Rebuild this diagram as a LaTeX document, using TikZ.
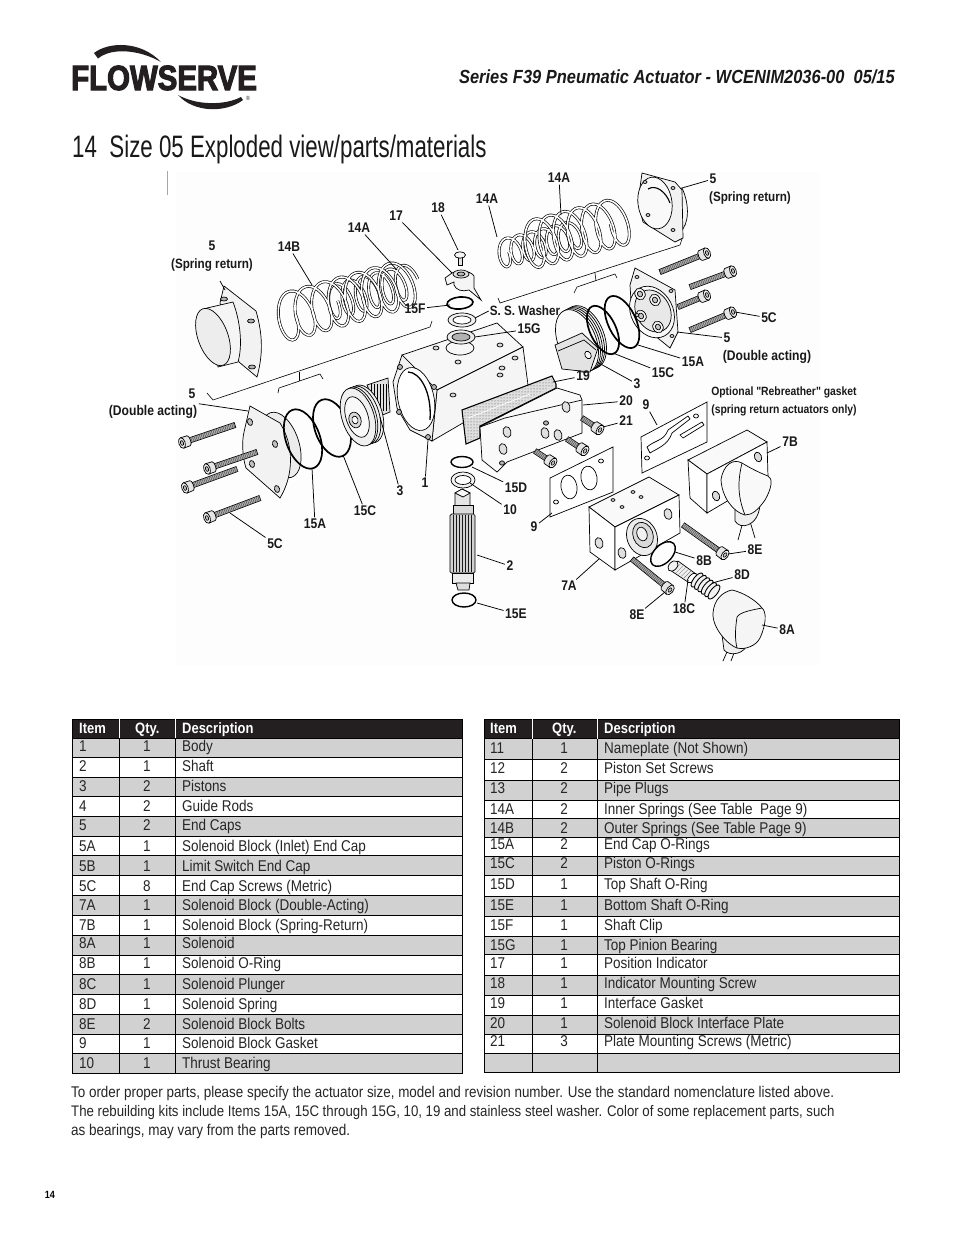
\documentclass[tikz,border=0pt]{standalone}
\usepackage{fontspec}
\setmainfont[FakeStretch=0.865]{Liberation Sans}
\newfontfamily\logofont[FakeStretch=0.84,FakeBold=3]{Liberation Sans}
\newfontfamily\titlefont[FakeStretch=0.72]{Liberation Sans}
\newfontfamily\optfont[FakeStretch=0.865]{Liberation Sans}
\usetikzlibrary{calc,patterns}
\definecolor{hdr}{HTML}{231F20}
\definecolor{rowg}{HTML}{D1D1D1}
\definecolor{bgt}{HTML}{FDFDFD}
\tikzset{
 part/.style={draw=black,line width=.7,fill=white},
 shade1/.style={draw=black,line width=.7,fill=gray!10},
 lead/.style={draw=black,line width=.75},
 lab/.style={font=\fontsize{14}{15}\selectfont\bfseries,inner sep=1.5pt,text=black!90},
 sublab/.style={font=\fontsize{13.5}{14}\selectfont\bfseries,inner sep=1pt,text=black!90},
 cell/.style={font=\fontsize{15.6}{17}\selectfont,anchor=base west,inner sep=0pt,text=black!85},
 cellc/.style={font=\fontsize{15.6}{17}\selectfont,anchor=base,inner sep=0pt,text=black!85},
 head/.style={font=\fontsize{15}{17}\selectfont\bfseries,anchor=base west,inner sep=0pt,text=white},
 foot/.style={font=\fontsize{15.6}{17}\selectfont,anchor=base west,inner sep=0pt,text=black!85},
}
% ellipse ring: cx cy a b angle width
\newcommand{\myring}[6]{\draw[line width=#6,shift={(#1,#2)},rotate=-#5] (0,0) ellipse[x radius=#3,y radius=#4];}
\newcommand{\myell}[6]{\draw[#6,shift={(#1,#2)},rotate=-#5] (0,0) ellipse[x radius=#3,y radius=#4];}
% bolt: head x,y tip x,y
\newcommand{\mybolt}[4]{%
 \pgfmathsetmacro\bang{atan2(#4-#2,#3-#1)}%
 \pgfmathsetmacro\blen{veclen(#4-#2,#3-#1)}%
 \begin{scope}[shift={(#1,#2)},rotate=-\bang]
  \draw[part,fill=gray!45] (6,-2.6) rectangle (\blen,2.6);
  \draw[gray!80!black,line width=4.6,dash pattern=on .9pt off .9pt] (6,0)--(\blen,0);
  \draw[part,fill=gray!20] (7,0) ellipse[x radius=2,y radius=5.2];
  \fill[gray!20] (0,-5.5) rectangle (7,5.2);
  \draw[line width=.7] (0,-5.5) -- (7,-5.2) (0,5.5) -- (7,5.2);
  \draw[part,fill=gray!12] (0,0) ellipse[x radius=3.2,y radius=5.5];
  \draw[line width=.6,fill=gray!50] (0,0) ellipse[x radius=1.5,y radius=2.5];
 \end{scope}}
% spring: x1 y1 x2 y2 R r coils
\newcommand{\myspring}[7]{%
 \pgfmathsetmacro\bang{atan2(#4-#2,#3-#1)}%
 \pgfmathsetmacro\blen{veclen(#4-#2,#3-#1)}%
 \begin{scope}[shift={(#1,#2)},rotate=-\bang]
  \draw[black,line width=2.9,line join=round] plot[domain=0:360*#7,samples=170,smooth,variable=\t] ({\blen*(\t/(360*#7))+#6*cos(\t)},{#5*sin(\t)});
  \draw[white,line width=1.6,line join=round] plot[domain=0:360*#7,samples=170,smooth,variable=\t] ({\blen*(\t/(360*#7))+#6*cos(\t)},{#5*sin(\t)});
 \end{scope}}
% label + leader
\newcommand{\lbl}[6]{\node[lab] (#1) at (#2,#3) {#4}; \coordinate (#1e) at (#5,#6); \draw[lead] (#1) -- (#1e);}
\begin{document}
\begin{tikzpicture}[x=1pt,y=-1pt]
\useasboundingbox (0,0) rectangle (954,1235);
\fill[white] (0,0) rectangle (954,1235);
\fill[bgt] (176,172) rectangle (820,665);
\draw[gray!70,line width=.8] (167.5,171) -- (167.5,195);

%%% logo
\node[inner sep=0,anchor=base west,text depth=0pt,font=\fontsize{35}{35}\selectfont\logofont\bfseries,text=hdr] (logo) at (71,90) {FLOWSERVE};
\fill[hdr] (94,53) .. controls (108,42) and (140,40) .. (161,62) .. controls (140,50) and (112,47) .. (98,58.5) -- cycle;
\fill[hdr] (178,95) .. controls (194,113) and (226,113) .. (243,100) -- (241,97) .. controls (226,105) and (198,106) .. (178,95) -- cycle;
\node[inner sep=0,font=\fontsize{6}{6}\selectfont,text=hdr] (reg) at (248,98) {®};

%%% header and title
\node[inner sep=0,anchor=base east,font=\fontsize{19}{20}\selectfont\bfseries\itshape,text=black!90] (hd) at (895,83) {Series F39 Pneumatic Actuator - WCENIM2036-00\ \ 05/15};
\node[inner sep=0,anchor=base west,font=\fontsize{31}{32}\selectfont\titlefont,text=black!90] (ttl) at (72,157) {14\ \ Size 05 Exploded view/parts/materials};

%%% brackets
\draw[lead,line width=.6] (207,393)--(213,400)--(430,327)--(432,321);
\draw[lead,line width=.6] (299,372)--(299,381);
\draw[lead,line width=.6] (278,393)--(279,388)--(320,374)--(323,379);
\draw[lead,line width=.6] (498,298)--(500,303)--(680,245)--(682,239);
\draw[lead,line width=.6] (595,273)--(596,281);
\draw[lead,line width=.6] (574,293)--(577,287)--(615,274)--(617,278);

%%% springs
\myspring{330}{303}{410}{281}{17}{8}{6}
\myspring{283}{318}{408}{283}{24}{13}{7.5}
\myspring{501}{254}{578}{234}{14}{8}{6.5}
\myspring{530}{245}{622}{221}{24}{12}{6.5}

%%% left dome cap
\draw[shade1] (224,286) -- (256,311) .. controls (263,335) and (263,355) .. (257,377) -- (239,362) -- (220,303) -- cycle;
\draw[part,fill=gray!8] (207,308) -- (233,302) .. controls (240,320) and (243,345) .. (238,362) -- (218,367) -- cycle;
\myell{213}{337}{30}{15}{70}{part,fill=gray!14}
\foreach \p/\q in {224/299,251/321,252/367} {\myell{\p}{\q}{3.5}{2}{0}{part,fill=gray!60}}

%%% right dome cap
\draw[part,fill=gray!8] (682,188) .. controls (690,205) and (689,225) .. (680,232) -- (670,220) -- (672,190) -- cycle;
\draw[shade1] (642,173) -- (675,182) -- (682,190) -- (683,238) -- (675,242) -- (643,222) -- (638,202) -- cycle;
\myell{655}{203}{26}{17}{82}{part,fill=gray!5}
\draw[line width=1.1] (648,189) .. controls (656,184) and (666,192) .. (670,203);
\foreach \p/\q in {645/182,673/188,673/230,648/215} {\myell{\p}{\q}{2}{1.5}{0}{part,fill=gray!40}}

%%% left double acting cap
\myell{281}{445}{34}{18}{72}{part,fill=gray!15}
\draw[shade1] (250,406) -- (280,423) .. controls (294,445) and (294,475) .. (280,498) -- (246,468) .. controls (242,456) and (242,440) .. (244,432) -- cycle;
\foreach \p/\q in {250/422,275/444,252/464,277/489} {\myell{\p}{\q}{3.5}{2.5}{75}{part,fill=gray!50}}

%%% right double acting cap
\draw[shade1] (635,268) -- (675,290) -- (678,332) -- (670,348) -- (632,317) -- (630,285) -- cycle;
\myell{652}{312}{27}{21}{62}{part,fill=gray!5}
\myell{653}{311}{22}{17}{62}{part,fill=gray!18}
\foreach \p/\q in {640/294,655/300,641/316,658/327} {\myell{\p}{\q}{6}{5}{60}{part,fill=gray!8}\myell{\p}{\q}{3}{2.5}{60}{part,fill=gray!45}}
\foreach \p/\q in {637/277,671/291,672/336,637/315} {\myell{\p}{\q}{2}{1.5}{0}{part,fill=gray!40}}

%%% bolts
\mybolt{707}{253}{660}{272}
\mybolt{733}{271}{690}{287}
\mybolt{707}{295}{678}{307}
\mybolt{733}{312}{690}{330}
\mybolt{182}{443}{235}{425}
\mybolt{207}{469}{257}{452}
\mybolt{185}{488}{237}{469}
\mybolt{207}{518}{260}{498}

%%% right piston
\foreach \c/\d in {585/337,583/338,581/339,579/340} {\myell{\c}{\d}{33}{19}{68}{part,fill=gray!8}}
\myell{577}{341}{33}{19}{68}{part,fill=gray!5}
\draw[shade1,fill=gray!22] (555,345) -- (582,333) -- (598,348) -- (590,372) -- (562,369) -- cycle;
\draw[line width=.7] (558,351) -- (584,340) -- (596,350);
\myell{588}{355}{4}{3}{60}{part,fill=gray!5}

%%% O rings
\myring{303}{439}{31}{17}{70}{1.7}
\myring{332}{428}{30}{17}{70}{1.7}
\myring{603}{330}{26}{13}{65}{1.7}
\myring{622}{322}{28}{14}{65}{1.7}

%%% left piston
\draw[shade1,fill=gray!25] (367,385) -- (388,378) -- (390,412) -- (380,416) -- cycle;
\foreach \k in {371,374,...,386} {\draw[line width=.7] (\k,384) -- (\k,411);}
\foreach \c/\d in {366/414,363/415,360/416,358/417} {\myell{\c}{\d}{30}{16}{72}{part,fill=gray!12}}
\myell{357}{417}{21}{11}{72}{part,fill=gray!5}
\myell{355}{420}{8}{6}{72}{part,fill=gray!30}
\myell{355}{420}{4}{3}{72}{part,fill=gray!5}

%%% body
\draw[part,fill=gray!6] (402,355) -- (497,323) -- (523,347) -- (437,390) -- cycle;
\draw[part,fill=gray!8] (437,390) -- (523,347) -- (528,385) -- (432,441) -- cycle;
\draw[shade1] (402,355) -- (437,390) -- (432,441) -- (410,430) -- (397,408) -- (393,382) -- cycle;
\myell{416}{399}{32}{18}{78}{part,fill=white}
\draw[line width=1.3] (408,372) .. controls (420,372) and (432,392) .. (430,420);
\foreach \p/\q in {400/367,434/387,399/412,428/437} {\myell{\p}{\q}{2.5}{2.5}{0}{part,fill=gray!60}}
\foreach \p/\q in {436/348,500/345,458/362,515/358,453/395,500/375,502/368} {\myell{\p}{\q}{3}{2}{0}{part,fill=gray!30}}
\myell{460}{348}{14}{7}{0}{part,fill=gray!6}

%%% gasket 19
\draw[line width=1.1,fill=gray!25] (462,410) -- (552,376) -- (556,384) -- (556,388) -- (480,426) -- (480,438) -- (466,444) -- cycle;
\fill[pattern=dots,pattern color=black!70] (463,411) -- (551,377) -- (555,385) -- (480,425) -- (480,437) -- (467,443) -- cycle;
\draw[white,line width=.7] (468,418) -- (530,394);

%%% plate 20
\draw[part,fill=gray!5] (480,427) -- (557,388) -- (580,395) -- (582,400) -- (582,433) -- (507,462) -- (497,472) -- (482,460) -- cycle;
\draw[line width=.7] (480,427) -- (505,418) -- (582,400);
\foreach \p/\q in {507/432,545/433,558/435,566/407,503/449} {\myell{\p}{\q}{5.5}{4}{75}{part,fill=gray!25}}
\foreach \p/\q in {546/423,502/463} {\myell{\p}{\q}{2.5}{2.2}{0}{part,fill=gray!60}}
\mybolt{600}{430}{582}{418}
\mybolt{585}{451}{567}{439}
\mybolt{553}{463}{535}{451}

%%% gaskets 9
\draw[part] (550,478) -- (613,447) -- (613,492) -- (550,517) -- cycle;
\myell{569}{487}{12}{8}{80}{part}
\myell{589}{478}{12}{8}{80}{part}
\myell{556}{502}{2.5}{2}{0}{part}
\myell{601}{461}{2.5}{2}{0}{part}
\draw[part] (641,437) -- (707,402) -- (707,442) -- (642,473) -- cycle;
\draw[part] (647,447) .. controls (655,440) and (664,441) .. (668,430) -- (688,416) -- (690,419) -- (672,433) .. controls (668,445) and (658,448) .. (650,453) -- cycle;
\draw[part] (680,435) -- (702,422) -- (704,425) -- (683,438) -- cycle;
\myell{647}{458}{2.5}{2}{0}{part}
\myell{696}{416}{2.5}{2}{0}{part}

%%% block 7B
\draw[part,fill=gray!5] (688,460) -- (747,430) -- (767,442) -- (707,474) -- cycle;
\draw[part] (688,460) -- (707,474) -- (707,513) -- (690,498) -- cycle;
\draw[part] (707,474) -- (767,442) -- (768,477) -- (707,513) -- cycle;
\myell{758}{457}{5}{3.5}{70}{part,fill=gray!30}
\myell{716}{496}{5}{3.5}{70}{part,fill=gray!30}
\draw[part,line width=.7] (738,540) -- (744,518);
\draw[part,line width=.7] (755,538) -- (749,518);
\draw[part,fill=gray!12] (735,505) -- (735,521) .. controls (740,530) and (758,527) .. (760,505) -- cycle;
\draw[part,fill=gray!5] (721,480) .. controls (723,465) and (733,458) .. (742,463) .. controls (750,468) and (760,473) .. (768,476) .. controls (773,478) and (772,488) .. (765,500) .. controls (758,510) and (752,515) .. (745,515) .. controls (733,512) and (722,497) .. (721,480) -- cycle;
\draw[line width=.7] (742,463) .. controls (738,480) and (737,495) .. (745,515);

%%% block 7A
\draw[part,fill=gray!5] (589,507) -- (649,477) -- (679,495) -- (615,527) -- cycle;
\draw[part] (589,507) -- (615,527) -- (615,570) -- (590,552) -- cycle;
\draw[part] (615,527) -- (679,495) -- (680,533) -- (615,570) -- cycle;
\myell{642}{537}{19}{15}{70}{part,fill=gray!15}
\myell{643}{535}{13}{10}{70}{part,fill=gray!30}
\myell{642}{534}{7}{5}{70}{part,fill=gray!10}
\foreach \p/\q in {668/514,622/553,599/543} {\myell{\p}{\q}{5.5}{4}{75}{part,fill=gray!25}}
\foreach \p/\q in {613/500,633/492,641/497,622/507} {\myell{\p}{\q}{2}{1.4}{0}{part,fill=gray!35}}
\mybolt{725}{555}{683}{525}
\mybolt{670}{590}{632}{559}

%%% solenoid parts
\myring{663}{554}{15}{9}{-45}{1.4}
\draw[part,fill=gray!12] (670,570) -- (678,561) -- (696,574) -- (688,582) -- cycle;
\foreach \k in {1,...,5} {\draw[line width=.4,gray] ({671+\k*2.6},{569+\k*1.8}) -- ({678+\k*2.6},{562+\k*1.8});}
\myell{673}{566}{6}{4}{-48}{part,fill=gray!10}
\myell{692}{578}{6}{3}{-48}{part,fill=white}
\foreach \k in {0,...,5} {\myell{{697+\k*3.4}}{{580+\k*2.4}}{8.5}{3.5}{-52}{line width=.9,fill=gray!10}}
\draw[line width=.7] (730,645) -- (723,661);
\draw[line width=.7] (737,645) -- (731,661);
\draw[part,fill=gray!12] (722,635) -- (724,650) .. controls (730,657) and (745,654) .. (748,643) -- cycle;
\draw[part,fill=gray!8] (713,613) .. controls (714,600) and (722,592) .. (732,590) .. controls (742,592) and (756,600) .. (762,608) .. controls (767,612) and (766,625) .. (760,638) .. controls (756,646) and (745,650) .. (737,648) .. controls (728,645) and (712,628) .. (713,613) -- cycle;
\draw[line width=.7] (762,608) .. controls (752,610) and (740,612) .. (737,617) .. controls (735,630) and (735,640) .. (737,648);

%%% shaft
\myring{462}{462}{11}{5.5}{0}{1.4}
\myell{463}{480}{12}{8}{0}{part,fill=gray!10}
\myell{463}{480}{8}{4.5}{0}{part,fill=white}
\draw[part,fill=gray!20] (455,493) -- (462,489) -- (470,493) -- (470,508) -- (455,508) -- cycle;
\draw[part,fill=gray!5] (455,493) -- (462,489) -- (470,493) -- (463,497) -- cycle;
\draw[part,fill=gray!30] (453,505) rectangle (473,515);
\draw[part,fill=gray!35,rounded corners=1.5pt] (450,514) rectangle (475,573);
\foreach \k in {453,456,...,473} {\draw[line width=.45,gray!20!black] (\k,515) -- (\k,572);}
\draw[part,fill=gray!15] (452,573) rectangle (473,583);
\draw[part,fill=gray!25] (456,583) -- (470,583) -- (469,590) -- (458,590) -- cycle;
\myring{464}{600}{12}{7}{0}{1.4}

%%% top parts
\draw[part,fill=gray!20] (458,256) rectangle (462,265);
\myell{460}{255}{5.5}{3.2}{0}{part,fill=gray!8}
\draw[part,fill=gray!8] (445,278) -- (452,273) .. controls (458,270) and (470,270) .. (474,276) -- (474,288) -- (481,300) -- (469,290) .. controls (462,292) and (456,290) .. (454,285) -- (454,282) -- (447,285) -- cycle;
\myell{461}{274}{8}{4}{0}{part,fill=gray!25}
\myell{461}{274}{4}{2}{0}{part,fill=gray!55}
\myring{460}{303}{13}{6}{-5}{1.6}
\myell{462}{320}{14}{7}{0}{part,fill=gray!12}
\myell{462}{320}{9}{4}{0}{part,fill=white}
\myell{461}{337}{14}{7}{0}{part,fill=gray!15}
\myell{461}{337}{9}{4}{0}{part,fill=gray!60}

%%% labels
\node[lab] (a5) at (212,246) {5};
\node[sublab] (a5s) at (212,265) {(Spring return)};
\coordinate (a5e) at (225,290); \draw[lead] (220,281) -- (a5e);
\lbl{b14B}{289}{247}{14B}{312}{285}
\lbl{c14A}{359}{228}{14A}{397}{270}
\lbl{d17}{396}{216}{17}{452}{273}
\lbl{e18}{438}{208}{18}{458}{250}
\lbl{f14A}{487}{199}{14A}{497}{237}
\lbl{g14A}{559}{178}{14A}{561}{215}
\lbl{h5}{713}{179}{5}{682}{188}
\node[sublab] (h5s) at (750,198) {(Spring return)};
\lbl{i5C}{769}{318}{5C}{735}{312}
\lbl{j5}{727}{338}{5}{677}{332}
\node[lab] (j5s) at (767,357) {(Double acting)};
\lbl{k15A}{693}{362}{15A}{638}{345}
\lbl{l15C}{663}{373}{15C}{613}{353}
\lbl{m3}{637}{384}{3}{597}{362}
\lbl{n19}{583}{376}{19}{553}{382}
\lbl{o20}{626}{401}{20}{583}{405}
\lbl{p21}{626}{421}{21}{603}{427}
\lbl{q9}{646}{405}{9}{657}{425}
\node[sublab,font=\fontsize{12}{13}\selectfont\optfont\bfseries] (opt1) at (784,392) {Optional "Rebreather" gasket};
\node[sublab,font=\fontsize{12}{13}\selectfont\optfont\bfseries] (opt2) at (784,410) {(spring return actuators only)};
\lbl{r7B}{790}{442}{7B}{767}{453}
\lbl{s8E}{755}{550}{8E}{728}{554}
\lbl{t8B}{704}{561}{8B}{675}{552}
\lbl{u8D}{742}{575}{8D}{712}{583}
\lbl{v8A}{787}{630}{8A}{762}{625}
\lbl{w18C}{684}{609}{18C}{688}{580}
\lbl{x8E}{637}{615}{8E}{665}{592}
\lbl{y7A}{569}{586}{7A}{599}{559}
\lbl{z9}{534}{527}{9}{552}{513}
\lbl{aa15D}{516}{488}{15D}{472}{467}
\lbl{ab10}{510}{510}{10}{470}{483}
\lbl{ac2}{510}{566}{2}{477}{555}
\lbl{ad15E}{516}{614}{15E}{477}{603}
\lbl{ae1}{425}{483}{1}{428}{440}
\lbl{af3}{400}{491}{3}{380}{417}
\lbl{ag15C}{365}{511}{15C}{343}{455}
\lbl{ah15A}{315}{524}{15A}{312}{468}
\lbl{ai5C}{275}{544}{5C}{230}{513}
\node[lab] (aj5) at (192,394) {5};
\node[lab] (aj5s) at (153,412) {(Double acting)};
\coordinate (aj5e) at (248,411); \draw[lead] (aj5s.north east) -- (aj5e);
\lbl{ak15F}{415}{309}{15F}{450}{305}
\node[sublab] (alw) at (525,311) {S. S. Washer};
\coordinate (alwe) at (475,318); \draw[lead] (alw.west) -- (alwe);
\lbl{am15G}{529}{329}{15G}{475}{337}

%%% left table
\fill[hdr] (72,719) rectangle (462,738);
\foreach \a/\b in {738/757.3,777/796.7,816.7/836,855.7/875.5,895/915,935/955,974.3/994.3,1014.3/1034.3,1053.3/1073.3} {\fill[rowg] (72,\a) rectangle (462,\b);}
\foreach \a in {738,757.3,777,796.7,816.7,836,855.7,875.5,895,915,935,955,974.3,994.3,1014.3,1034.3,1053.3,1073.3} {\draw[black,line width=.7] (72,\a) -- (462,\a);}
\draw[black,line width=.7] (72,719) rectangle (462,1073.3);
\foreach \c in {119,175} {\draw[white,line width=.8] (\c,719) -- (\c,738); \draw[black,line width=.7] (\c,738) -- (\c,1073.3);}
\node[head] (lh1) at (79,733) {Item};
\node[head] (lh2) at (135,733) {Qty.};
\node[head] (lh3) at (182,733) {Description};
\foreach \i/\q/\d/\y in {1/1/Body/751.7,2/1/Shaft/771,3/2/Pistons/791,4/2/Guide Rods/811.7,5/2/End Caps/830.7,5A/1/Solenoid Block (Inlet) End Cap/851.7,5B/1/Limit Switch End Cap/871.7,5C/8/End Cap Screws (Metric)/891,7A/1/Solenoid Block (Double-Acting)/910.7,7B/1/Solenoid Block (Spring-Return)/930,8A/1/Solenoid/948.3,8B/1/Solenoid O-Ring/968.3,8C/1/Solenoid Plunger/989,8D/1/Solenoid Spring/1009.3,8E/2/Solenoid Block Bolts/1029.3,9/1/Solenoid Block Gasket/1048.3,10/1/Thrust Bearing/1068.3} {
 \node[cell] at (79,\y) {\i};
 \node[cellc] at (147,\y) {\q};
 \node[cell] at (182,\y) {\d};
}

%%% right table
\fill[hdr] (484,719) rectangle (899,738.5);
\foreach \a/\b in {738.5/759.5,780/800,818/837,856.7/875.7,896/916,936/954,975/995.7,1015.7/1034.3,1053.3/1072.7} {\fill[rowg] (484,\a) rectangle (899,\b);}
\foreach \a in {738.5,759.5,780,800,818,837,856.7,875.7,896,916,936,954,975,995.7,1015.7,1034.3,1053.3,1072.7} {\draw[black,line width=.7] (484,\a) -- (899,\a);}
\draw[black,line width=.7] (484,719) rectangle (899,1072.7);
\foreach \c in {532,597} {\draw[white,line width=.8] (\c,719) -- (\c,738.5); \draw[black,line width=.7] (\c,738.5) -- (\c,1072.7);}
\node[head] (rh1) at (490,733) {Item};
\node[head] (rh2) at (552,733) {Qty.};
\node[head] (rh3) at (604,733) {Description};
\foreach \i/\q/\d/\y in {11/1/Nameplate (Not Shown)/753,12/2/Piston Set Screws/773,13/2/Pipe Plugs/793,14A/2/Inner Springs (See Table\ \ Page 9)/814,14B/2/Outer Springs (See Table Page 9)/833,15A/2/End Cap O-Rings/849.5,15C/2/Piston O-Rings/868.5,15D/1/Top Shaft O-Ring/889,15E/1/Bottom Shaft O-Ring/910,15F/1/Shaft Clip/930,15G/1/Top Pinion Bearing/950,17/1/Position Indicator/968.5,18/1/Indicator Mounting Screw/988.5,19/1/Interface Gasket/1008.5,20/1/Solenoid Block Interface Plate/1028,21/3/Plate Mounting Screws (Metric)/1046} {
 \node[cell] at (490,\y) {\i};
 \node[cellc] at (564,\y) {\q};
 \node[cell] at (604,\y) {\d};
}

%%% footer
\node[foot,font=\fontsize{15.5}{17}\selectfont] (f1) at (71,1097) {To order proper parts, please specify the actuator size, model and revision number. Use the standard nomenclature listed above.};
\node[foot,font=\fontsize{15.3}{17}\selectfont] (f2) at (71,1116) {The rebuilding kits include Items 15A, 15C through 15G, 10, 19 and stainless steel washer. Color of some replacement parts, such};
\node[foot] (f3) at (71,1135) {as bearings, may vary from the parts removed.};
\node[inner sep=0,font=\fontsize{10.5}{11}\selectfont\bfseries] (pg) at (50,1195) {14};
\end{tikzpicture}
\end{document}
